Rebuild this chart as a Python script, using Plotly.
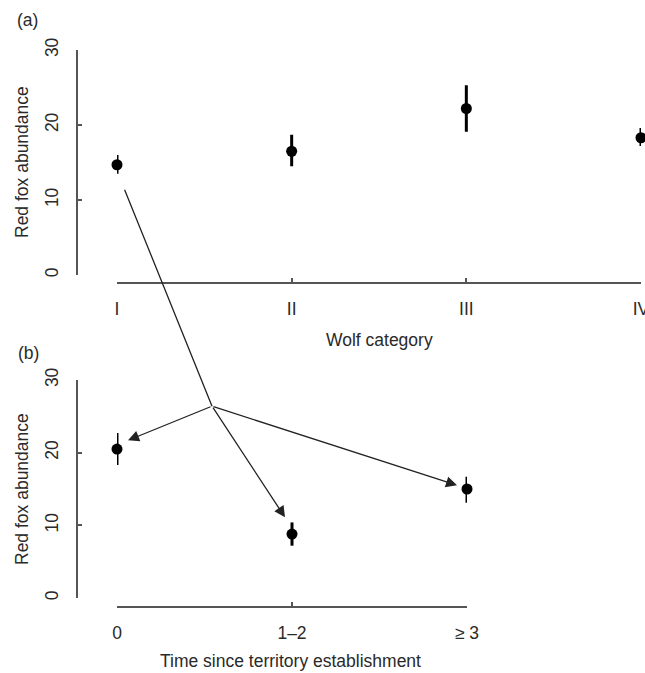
import plotly.graph_objects as go

# ---- data ----
wolf_categories = ["I", "II", "III", "IV"]
fox_mean_a = [14.7, 16.5, 22.2, 18.3]
fox_err_up_a = [1.3, 2.2, 3.1, 1.3]
fox_err_down_a = [1.2, 2.0, 3.1, 1.1]

time_categories = ["0", "1\u20132", "\u2265 3"]
fox_mean_b = [20.5, 8.8, 15.0]
fox_err_up_b = [2.2, 1.6, 1.7]
fox_err_down_b = [2.2, 1.6, 1.9]

y_ticks = [0, 10, 20, 30]

W, H = 645, 673
FONT = "Liberation Sans, Arial, Helvetica, sans-serif"
TXT = "#2a2a2a"
AX = "#555555"
FS = 17.5

def px(x):
    return x / W

def py(y):
    return 1 - y / H

fig = go.Figure()

fig.add_trace(go.Scatter(
    x=wolf_categories, y=fox_mean_a, mode="markers",
    marker=dict(color="black", size=11),
    error_y=dict(type="data", array=fox_err_up_a, arrayminus=fox_err_down_a,
                 width=0, thickness=3, color="black"),
    xaxis="x", yaxis="y", cliponaxis=False, showlegend=False))

fig.add_trace(go.Scatter(
    x=time_categories, y=fox_mean_b, mode="markers",
    marker=dict(color="black", size=11),
    error_y=dict(type="data", array=fox_err_up_b, arrayminus=fox_err_down_b,
                 width=0, thickness=3, color="black"),
    xaxis="x2", yaxis="y2", cliponaxis=False, showlegend=False))

common_y = dict(range=[0, 30], tickvals=y_ticks, ticks="inside", ticklen=4,
                tickwidth=1.5, tickcolor=AX, showline=True, linecolor=AX,
                linewidth=1.5, showgrid=False, zeroline=False, tickangle=-90,
                ticklabelstandoff=11, automargin=False,
                tickfont=dict(family=FONT, size=FS, color=TXT), anchor="free",
                position=px(77))
common_x = dict(type="category", ticks="inside", ticklen=4, tickwidth=1.5,
                tickcolor=AX, showline=True, linecolor=AX, linewidth=1.5,
                showgrid=False, zeroline=False, ticklabelstandoff=10,
                automargin=False,
                tickfont=dict(family=FONT, size=FS, color=TXT), anchor="free")

fig.update_layout(
    width=W, height=H,
    margin=dict(l=0, r=0, t=0, b=0, pad=0, autoexpand=False),
    paper_bgcolor="white", plot_bgcolor="white",
    xaxis=dict(common_x, domain=[px(117), px(641)], range=[0, 3], position=py(283)),
    yaxis=dict(common_y, domain=[py(275), py(50)]),
    xaxis2=dict(common_x, domain=[px(117), px(467)], range=[0, 2], position=py(607)),
    yaxis2=dict(common_y, domain=[py(598), py(380)]),
)

def label(text, x, y, angle=0, xanchor="center"):
    fig.add_annotation(text=text, x=px(x), y=py(y), xref="paper", yref="paper",
                       showarrow=False, textangle=angle, xanchor=xanchor,
                       yanchor="middle",
                       font=dict(family=FONT, size=FS, color=TXT))

label("(a)", 15, 20, xanchor="left")
label("(b)", 16, 353, xanchor="left")
label("Red fox abundance", 22, 162, angle=-90)
label("Red fox abundance", 22, 489, angle=-90)
label("Wolf category", 379, 340)
label("Time since territory establishment", 290, 661)

# arrows (in panel-b data coordinates)
junction = (0.543, 26.4)
ARR = "#222222"
# line from panel (a) category I down to junction
fig.add_annotation(x=junction[0], y=junction[1], ax=0.04, ay=56.4,
                   xref="x2", yref="y2", axref="x2", ayref="y2",
                   showarrow=True, arrowhead=0, arrowwidth=1.3, arrowcolor=ARR,
                   text="")
for hx, hy in [(0.063, 21.7), (0.96, 11.1), (1.943, 15.5)]:
    fig.add_annotation(x=hx, y=hy, ax=junction[0], ay=junction[1],
                       xref="x2", yref="y2", axref="x2", ayref="y2",
                       showarrow=True, arrowhead=2, arrowsize=1.7,
                       arrowwidth=1.3, arrowcolor=ARR, text="")

fig.write_html("out.html")
